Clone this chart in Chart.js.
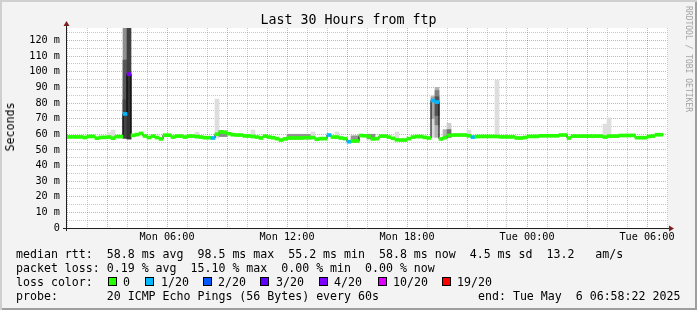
<!DOCTYPE html>
<html>
<head>
<meta charset="utf-8">
<script src="https://cdn.jsdelivr.net/npm/chart.js@4.4.1/dist/chart.umd.min.js"></script>
<style>
  html, body { margin: 0; padding: 0; background: #f3f3f3; }
  #frame { position: relative; width: 697px; height: 310px; background: #f3f3f3; overflow: hidden;
           box-shadow: inset 2px 2px 0 #cfcfcf, inset -2px -2px 0 #9e9e9e;
           font-family: 'DejaVu Sans Mono', monospace; color: #000; }
  #c { position: absolute; left: 0; top: 0; }
  .t { position: absolute; white-space: pre; line-height: 14px; }
  #title { left: 0; width: 697px; top: 12px; text-align: center; font-size: 13.3px; line-height: 16px; }
  #unit { left: 10px; top: 127px; font-size: 11.6px; transform: translate(-50%, -50%) rotate(-90deg); }
  #wm { left: 688px; top: 59px; font-size: 8px; color: #a3a3a3; transform: translate(-50%, -50%) rotate(90deg); }
  .leg { left: 16px; font-size: 11.6px; }
  .sq { position: absolute; width: 7px; height: 7px; border: 1px solid #000; }
</style>
</head>
<body>
<div id="frame">
  <canvas id="c" width="697" height="310"></canvas>
  <div id="title" class="t"></div>
  <div id="unit" class="t"></div>
  <div id="wm" class="t"></div>
  <div id="legend"></div>
</div>
<script>
// ---------------- data ----------------
const chartTitle = 'Last 30 Hours from ftp';
const unitLabel = 'Seconds';
const startHour = 1;            // Mon 01:00
const stepHours = 0.2;          // one sample every 12 minutes
const yMax = 128;               // ms

// median RTT per sample (ms)
const medianMs = [
  58.3, 58.3, 58.3, 58.3, 57.9, 58.6, 58.6, 57.5, 58.0, 58.0,
  58.2, 57.5, 58.5, 58.5, 73.0, 98.5, 59.3, 59.8, 60.5, 58.9,
  57.9, 58.8, 57.9, 57.0, 59.4, 59.4, 58.2, 58.8, 58.8, 58.2,
  58.8, 58.8, 58.5, 58.2, 57.8, 57.8, 57.6, 60.0, 61.5, 61.2,
  60.3, 59.7, 59.5, 59.5, 58.9, 58.9, 58.6, 58.2, 57.6, 58.8,
  58.2, 57.8, 57.2, 56.3, 57.0, 57.6, 57.6, 57.6, 57.6, 57.8,
  57.8, 57.9, 56.8, 57.2, 57.2, 59.5, 58.2, 58.2, 57.6, 57.2,
  55.2, 55.7, 55.7, 59.2, 59.0, 58.5, 57.0, 57.2, 58.8, 58.8,
  58.2, 57.4, 56.4, 56.3, 56.3, 57.2, 58.2, 58.5, 58.5, 58.0,
  57.6, 81.6, 80.6, 57.0, 57.8, 59.2, 59.5, 59.5, 59.5, 59.5,
  59.0, 58.2, 58.5, 58.6, 58.6, 58.6, 58.6, 58.6, 58.3, 58.3,
  58.3, 58.3, 57.6, 57.6, 57.9, 58.6, 58.6, 58.6, 59.0, 59.0,
  59.0, 59.0, 59.0, 59.5, 59.5, 57.6, 58.8, 58.8, 58.8, 58.8,
  58.8, 58.8, 58.8, 58.8, 58.2, 58.8, 58.8, 58.8, 59.2, 59.2,
  59.2, 59.3, 57.8, 57.8, 57.8, 58.6, 58.8, 59.7, 59.7, null
];

// samples with packet loss: sample index and lost pings (of 20)
const lossIndex = [14, 15, 36, 65, 70, 91, 92, 101];
const lossPings = [1, 3.02, 1, 1, 1, 1, 1, 1];

// smoke (ping spread): sample index, low ms, high ms, density (0..1)
const smokeIndex   = [10, 11, 14, 14, 14, 15, 15, 32, 37, 38, 39, 46, 55, 56, 57, 58, 59, 60, 61, 67, 71, 72, 75, 76, 82, 91, 91, 92, 92, 92, 94, 95, 95, 100, 107, 134, 135];
const smokeLow     = [57.5, 57.0, 57.5, 57.5, 57.5, 57.0, 57.0, 57.5, 57.5, 58.5, 58.5, 57.5, 57.0, 57.0, 57.0, 57.0, 57.0, 57.0, 57.0, 57.0, 55.0, 55.0, 57.0, 56.5, 56.0, 58.0, 70.0, 58.0, 66.0, 72.0, 57.5, 58.0, 58.0, 58.0, 58.0, 57.5, 57.5];
const smokeHigh    = [61.0, 62.7, 128, 107.5, 82.0, 128, 98.0, 61.4, 82.5, 62.5, 62.0, 62.7, 60.0, 60.0, 60.0, 60.0, 60.0, 60.0, 61.5, 61.5, 59.0, 59.0, 60.0, 60.0, 61.5, 85.0, 84.0, 90.0, 88.0, 84.0, 63.0, 67.0, 63.0, 62.7, 94.7, 66.5, 70.5];
const smokeDensity = [0.13, 0.13, 0.44, 0.65, 0.73, 0.75, 0.8, 0.13, 0.13, 0.45, 0.45, 0.13, 0.42, 0.42, 0.42, 0.42, 0.42, 0.42, 0.13, 0.13, 0.42, 0.42, 0.45, 0.45, 0.13, 0.15, 0.35, 0.3, 0.5, 0.68, 0.3, 0.2, 0.55, 0.13, 0.13, 0.13, 0.13];

// axis ticks
const xGridHours   = [1,2,3,4,5,6,7,8,9,10,11,12,13,14,15,16,17,18,19,20,21,22,23,24,25,26,27,28,29,30,31];
const xLabelHours  = [6, 12, 18, 24, 30];
const xLabelTexts  = ['Mon 06:00', 'Mon 12:00', 'Mon 18:00', 'Tue 00:00', 'Tue 06:00'];
const yGridValues  = [0,5,10,15,20,25,30,35,40,45,50,55,60,65,70,75,80,85,90,95,100,105,110,115,120,125];
const yLabelValues = [0, 10, 20, 30, 40, 50, 60, 70, 80, 90, 100, 110, 120];
const yLabelTexts  = ['0', '10 m', '20 m', '30 m', '40 m', '50 m', '60 m', '70 m', '80 m', '90 m', '100 m', '110 m', '120 m'];

// legend
const lossThresholds = [0, 1, 2, 3, 4, 10, 19];
const lossLabels     = ['0', '1/20', '2/20', '3/20', '4/20', '10/20', '19/20'];
const legendLines = [
  'median rtt:  58.8 ms avg  98.5 ms max  55.2 ms min  58.8 ms now  4.5 ms sd  13.2   am/s',
  'packet loss: 0.19 % avg  15.10 % max  0.00 % min  0.00 % now',
  'loss color:',
  'probe:       20 ICMP Echo Pings (56 Bytes) every 60s'
];
const endText = 'end: Tue May  6 06:58:22 2025';

// ---------------- styles ----------------
const lossColors = ['#26ff00', '#00b8ff', '#0059ff', '#5e00ff', '#7e00ff', '#dd00ff', '#ff0000'];
const GRID_MINOR = 'rgba(143,143,143,0.5)';
const GRID_MAJOR = 'rgba(240,0,0,0.38)';
const MONO = "'DejaVu Sans Mono', monospace";

function lossColor(lost) {
  for (let k = 0; k < lossThresholds.length; k++) if (lost <= lossThresholds[k]) return lossColors[k];
  return lossColors[lossColors.length - 1];
}
function smokeColor(d) {
  const g = Math.round(255 * (1 - d));
  return `rgb(${g},${g},${g})`;
}
const xOf = i => startHour + (i + 0.5) * stepHours;

// ---------------- text ----------------
document.getElementById('title').textContent = chartTitle;
document.getElementById('unit').textContent = unitLabel;
document.getElementById('wm').textContent = 'RRDTOOL / TOBI OETIKER';
const legend = document.getElementById('legend');
const lineTops = [247, 261, 275, 289];
legendLines.forEach((txt, k) => {
  const d = document.createElement('div');
  d.className = 't leg'; d.style.top = lineTops[k] + 'px'; d.textContent = txt;
  legend.appendChild(d);
});
const e = document.createElement('div');
e.className = 't leg'; e.style.left = '478px'; e.style.top = lineTops[3] + 'px'; e.textContent = endText;
legend.appendChild(e);
const sqX  = [108, 145, 203, 260, 319, 378, 442];
const labX = [123, 161, 218, 276, 334, 393, 457];
lossLabels.forEach((lab, k) => {
  const s = document.createElement('div');
  s.className = 'sq'; s.style.left = sqX[k] + 'px'; s.style.top = '277px'; s.style.background = lossColors[k];
  legend.appendChild(s);
  const t = document.createElement('div');
  t.className = 't leg'; t.style.left = labX[k] + 'px'; t.style.top = lineTops[2] + 'px'; t.textContent = lab;
  legend.appendChild(t);
});

// ---------------- chart ----------------
const halfLineMs = 1.5 * yMax / 200;   // 3px thick median marker
const medianPoints = medianMs.map((v, i) => ({ x: xOf(i), y: v }));
const medianBars = [], medianBarColors = [];
medianMs.forEach((v, i) => {
  if (v === null) return;
  const li = lossIndex.indexOf(i);
  const lost = li >= 0 ? lossPings[li] : 0;
  medianBars.push({ x: xOf(i), y: [v - halfLineMs, v + halfLineMs] });
  medianBarColors.push(lossColor(lost));
});
const smokeBars = smokeIndex.map((idx, k) => ({ x: xOf(idx), y: [smokeLow[k], Math.min(smokeHigh[k], yMax)] }));
const smokeColors = smokeDensity.map(smokeColor);

const bgPlugin = {
  id: 'canvasBg',
  beforeDraw(chart) {
    const { ctx, chartArea: a } = chart;
    ctx.save(); ctx.fillStyle = '#ffffff';
    ctx.fillRect(a.left, a.top, a.right - a.left + 1, a.bottom - a.top);
    ctx.restore();
  }
};
const axesPlugin = {
  id: 'rrdAxes',
  afterDraw(chart) {
    const { ctx, chartArea: a } = chart;
    ctx.save();
    ctx.strokeStyle = '#1f1f1f'; ctx.lineWidth = 1;
    ctx.beginPath();
    ctx.moveTo(a.left - 0.5, a.bottom + 3); ctx.lineTo(a.left - 0.5, a.top - 3);
    ctx.moveTo(a.left - 4, a.bottom + 0.5); ctx.lineTo(a.right + 3, a.bottom + 0.5);
    ctx.stroke();
    ctx.fillStyle = '#7f1f1f';
    ctx.beginPath();
    ctx.moveTo(a.left - 3.5, a.top - 2); ctx.lineTo(a.left + 2.5, a.top - 2); ctx.lineTo(a.left - 0.5, a.top - 7);
    ctx.closePath(); ctx.fill();
    ctx.beginPath();
    ctx.moveTo(a.right + 2, a.bottom - 2.5); ctx.lineTo(a.right + 2, a.bottom + 3.5); ctx.lineTo(a.right + 7, a.bottom + 0.5);
    ctx.closePath(); ctx.fill();
    ctx.restore();
  }
};

new Chart(document.getElementById('c'), {
  type: 'bar',
  data: {
    datasets: [
      { type: 'bar', data: smokeBars, backgroundColor: smokeColors, barThickness: 4, grouped: false, order: 3, borderWidth: 0 },
      { type: 'line', data: medianPoints, borderColor: '#000000', borderWidth: 1, pointRadius: 0, stepped: 'middle', spanGaps: false, order: 2, tension: 0 },
      { type: 'bar', data: medianBars, backgroundColor: medianBarColors, barThickness: 4, grouped: false, order: 1, borderWidth: 0 }
    ]
  },
  options: {
    responsive: false, animation: false, devicePixelRatio: 1,
    layout: { padding: { left: 0, top: 28, right: 30, bottom: 0 } },
    plugins: { legend: { display: false }, tooltip: { enabled: false }, title: { display: false } },
    scales: {
      x: {
        type: 'linear', min: startHour, max: startHour + 30, offset: false,
        grid: { offset: false, drawTicks: false, lineWidth: 1,
                color: c => (c.tick && c.tick.value % 3 === 0) ? GRID_MAJOR : GRID_MINOR },
        border: { display: false, dash: [1, 1] },
        afterBuildTicks: s => { s.ticks = xGridHours.map(v => ({ value: v })); },
        ticks: { autoSkip: false, maxRotation: 0, minRotation: 0, padding: 3, color: '#000',
                 font: { family: MONO, size: 10.2 },
                 callback: v => { const k = xLabelHours.indexOf(v); return k >= 0 ? xLabelTexts[k] : ''; } },
        afterFit: s => { s.height = 82; }
      },
      y: {
        type: 'linear', min: 0, max: yMax,
        grid: { drawTicks: false, lineWidth: 1,
                color: c => (c.tick && c.tick.value % 10 === 0) ? GRID_MAJOR : GRID_MINOR },
        border: { display: false, dash: [1, 1] },
        afterBuildTicks: s => { s.ticks = yGridValues.map(v => ({ value: v })); },
        ticks: { autoSkip: false, padding: 7, color: '#000', font: { family: MONO, size: 10.2 },
                 callback: v => { const k = yLabelValues.indexOf(v); return k >= 0 ? yLabelTexts[k] : ''; } },
        afterFit: s => { s.width = 67; }
      }
    }
  },
  plugins: [bgPlugin, axesPlugin]
});
</script>
</body>
</html>
